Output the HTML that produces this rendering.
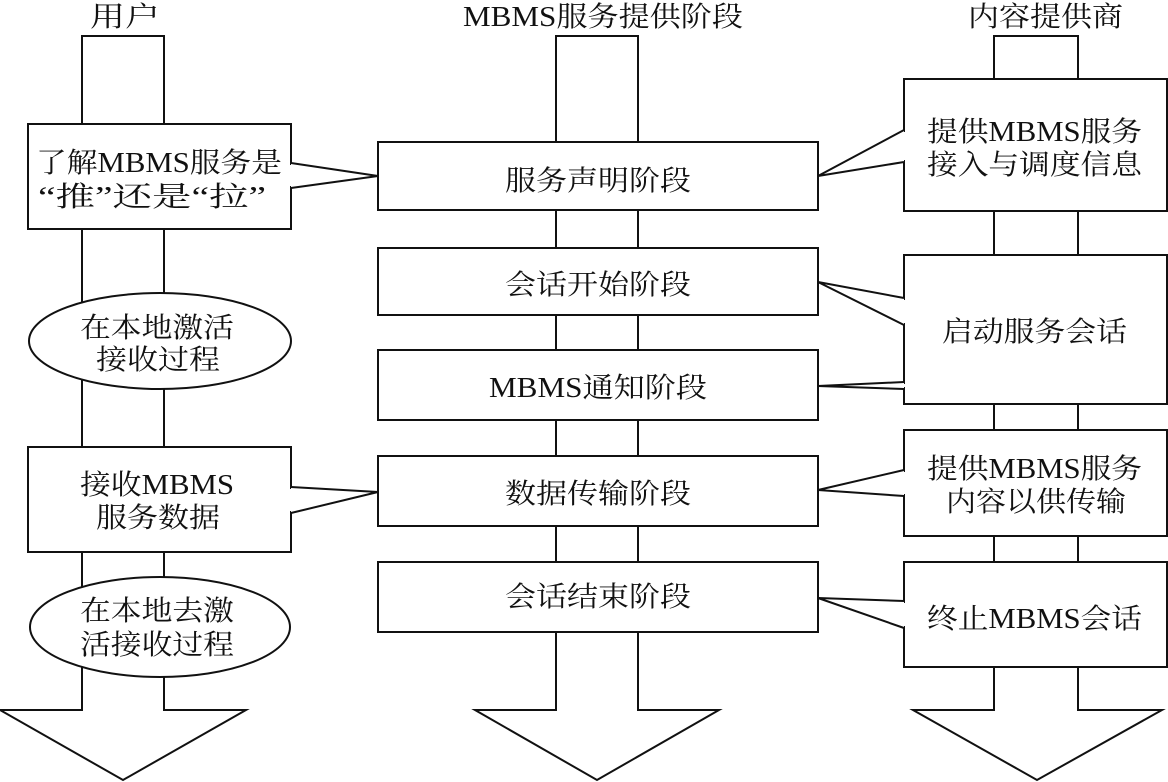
<!DOCTYPE html>
<html><head><meta charset="utf-8"><style>
html,body{margin:0;padding:0;background:#fff;}
svg{display:block;}
text{font-family:"Liberation Serif","Noto Serif CJK SC",serif;fill:#111;}
</style></head><body>
<svg width="1168" height="782" viewBox="0 0 1168 782" xmlns="http://www.w3.org/2000/svg">
<g fill="#fff" stroke="#111" stroke-width="2">
<!-- shafts with arrowheads -->
<path d="M82,36 H164 V710 H246 L123,780 L0,710 H82 Z"/>
<path d="M556,36 H638 V710 H719 L597,780 L475,710 H556 Z"/>
<path d="M994,36 H1078 V710 H1162 L1037,780 L913,710 H994 Z"/>
<!-- left column -->
<rect x="28" y="124" width="263" height="105"/>
<ellipse cx="160" cy="341" rx="131" ry="48"/>
<rect x="28" y="447" width="263" height="105"/>
<ellipse cx="160" cy="627" rx="130" ry="50"/>
<!-- middle -->
<rect x="378" y="142" width="440" height="68"/>
<rect x="378" y="248" width="440" height="67"/>
<rect x="378" y="350" width="440" height="70"/>
<rect x="378" y="456" width="440" height="70"/>
<rect x="378" y="562" width="440" height="70"/>
<!-- right -->
<rect x="904" y="79" width="263" height="132"/>
<rect x="904" y="255" width="263" height="149"/>
<rect x="904" y="430" width="263" height="106"/>
<rect x="904" y="562" width="263" height="105"/>
</g>
<!-- callouts -->
<g fill="#fff" stroke="#111" stroke-width="2" stroke-linejoin="miter">
<polyline points="291,163 378,176 291,188"/>
<polyline points="291,487 378,492 291,513"/>
<polyline points="904,130 818,176 904,162"/>
<polyline points="904,298 818,282 904,325"/>
<polyline points="904,382 818,386 904,389"/>
<polyline points="904,470 818,490 904,496"/>
<polyline points="904,601 818,598 904,628"/>
</g>
<g stroke="#fff" stroke-width="3">
<line x1="291" y1="165" x2="291" y2="186"/>
<line x1="291" y1="489" x2="291" y2="511"/>
<line x1="904" y1="132" x2="904" y2="160"/>
<line x1="904" y1="300" x2="904" y2="323"/>
<line x1="904" y1="384" x2="904" y2="387"/>
<line x1="904" y1="472" x2="904" y2="494"/>
<line x1="904" y1="603" x2="904" y2="626"/>
</g>
<g font-size="28">
<text x="90" y="26" textLength="70" lengthAdjust="spacingAndGlyphs">用户</text>
<text x="463" y="26" textLength="280" lengthAdjust="spacingAndGlyphs">MBMS服务提供阶段</text>
<text x="968" y="26" textLength="155" lengthAdjust="spacingAndGlyphs">内容提供商</text>

<text x="36" y="172" textLength="246" lengthAdjust="spacingAndGlyphs">了解MBMS服务是</text>
<text x="38" y="206" textLength="228" lengthAdjust="spacingAndGlyphs">“推”还是“拉”</text>
<text x="80" y="337" textLength="154" lengthAdjust="spacingAndGlyphs">在本地激活</text>
<text x="96" y="369" textLength="124" lengthAdjust="spacingAndGlyphs">接收过程</text>
<text x="80" y="494" textLength="154" lengthAdjust="spacingAndGlyphs">接收MBMS</text>
<text x="96" y="527" textLength="124" lengthAdjust="spacingAndGlyphs">服务数据</text>
<text x="80" y="620" textLength="154" lengthAdjust="spacingAndGlyphs">在本地去激</text>
<text x="80" y="654" textLength="154" lengthAdjust="spacingAndGlyphs">活接收过程</text>

<text x="505" y="190" textLength="186" lengthAdjust="spacingAndGlyphs">服务声明阶段</text>
<text x="505" y="294" textLength="186" lengthAdjust="spacingAndGlyphs">会话开始阶段</text>
<text x="489" y="397" textLength="218" lengthAdjust="spacingAndGlyphs">MBMS通知阶段</text>
<text x="505" y="503" textLength="186" lengthAdjust="spacingAndGlyphs">数据传输阶段</text>
<text x="505" y="606" textLength="186" lengthAdjust="spacingAndGlyphs">会话结束阶段</text>

<text x="927" y="141" textLength="215" lengthAdjust="spacingAndGlyphs">提供MBMS服务</text>
<text x="927" y="174" textLength="215" lengthAdjust="spacingAndGlyphs">接入与调度信息</text>
<text x="942" y="341" textLength="185" lengthAdjust="spacingAndGlyphs">启动服务会话</text>
<text x="927" y="478" textLength="215" lengthAdjust="spacingAndGlyphs">提供MBMS服务</text>
<text x="946" y="511" textLength="180" lengthAdjust="spacingAndGlyphs">内容以供传输</text>
<text x="927" y="628" textLength="215" lengthAdjust="spacingAndGlyphs">终止MBMS会话</text>
</g>
</svg>
</body></html>
